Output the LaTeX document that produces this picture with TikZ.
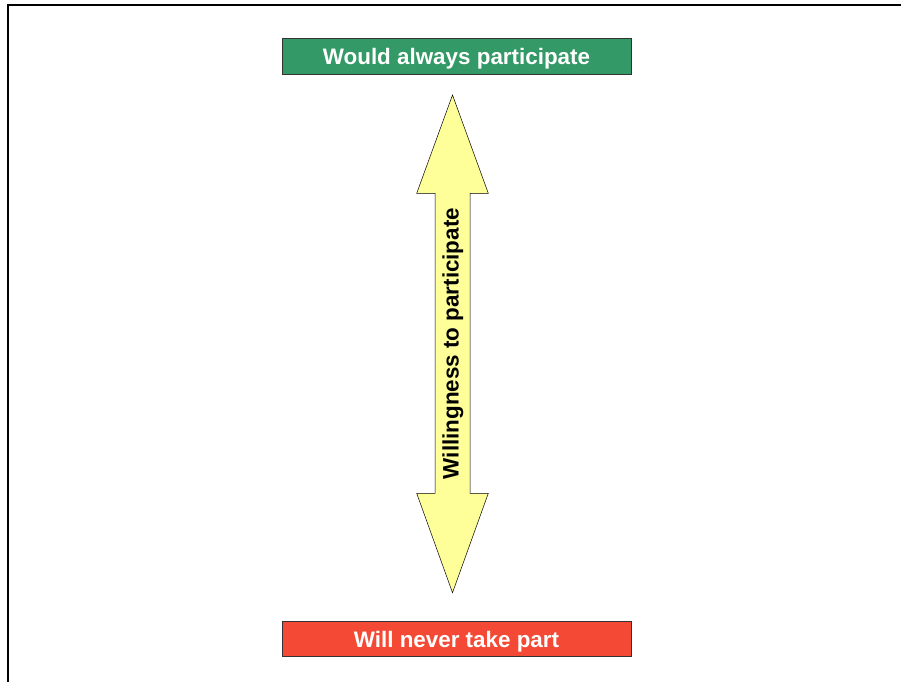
\documentclass[tikz,border=0pt]{standalone}
\usepackage{fontspec}
\setmainfont{Liberation Sans}
\definecolor{boxgreen}{HTML}{339966}
\definecolor{boxred}{HTML}{F44A35}
\definecolor{arrowyellow}{HTML}{FFFF99}
\begin{document}
\begin{tikzpicture}[x=1pt,y=-1pt,
  labelbox/.style={draw=black!80,line width=0.8pt,minimum width=349pt,minimum height=36pt,inner sep=0pt,
    text=white,text depth=0pt,font=\fontsize{22.4}{26}\selectfont\bfseries},
  frameline/.style={line width=2.2pt,black}]
\useasboundingbox (0,0) rectangle (901,681);
\coordinate (fbot) at (8,682);
\coordinate (fcorner) at (8,5);
\coordinate (fright) at (902,5);
\draw[frameline] (fbot) -- (fcorner) -- (fright);
\node[labelbox,fill=boxgreen] (top) at (456.5,56.3) {Would always participate};
\node[labelbox,fill=boxred,minimum height=35.5pt] (bot) at (456.5,639) {Will never take part};
\draw[fill=arrowyellow,line width=0.5pt]
  (452.5,95) -- (488.3,193.3) -- (470,193.3) -- (470,493.3) -- (488.3,493.3)
  -- (452.5,592.7) -- (416.7,493.3) -- (435,493.3) -- (435,193.3) -- (416.7,193.3) -- cycle;
\node[rotate=90,font=\fontsize{22.4}{26}\selectfont\bfseries,inner sep=0pt] (axis) at (453,343.5) {Willingness to participate};
\end{tikzpicture}
\end{document}
